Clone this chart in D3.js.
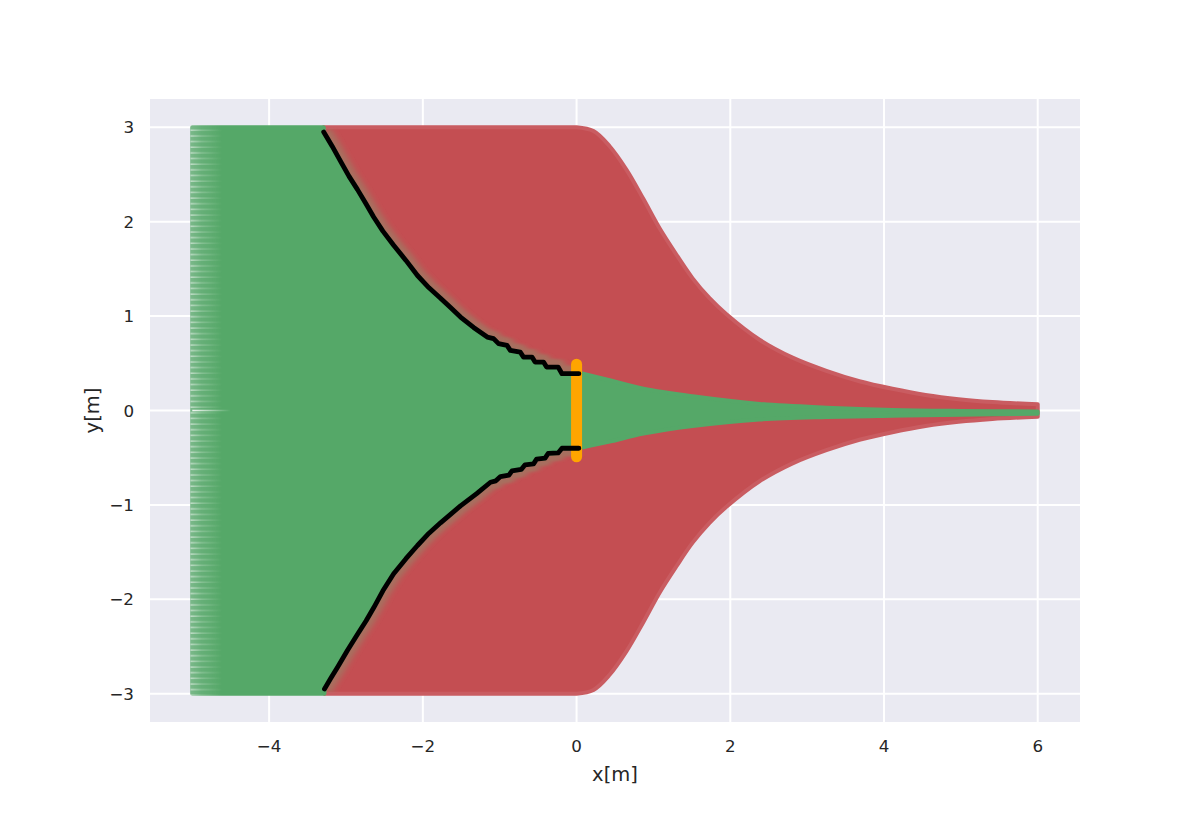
<!DOCTYPE html>
<html><head><meta charset="utf-8">
<script src="https://cdn.jsdelivr.net/npm/d3@7"></script>
<style>body{margin:0;background:#fff}</style>
</head><body>
<svg id="c" width="1200" height="825"></svg>
<script>
// ---- data ----
const xTicks = [-4, -2, 0, 2, 4, 6];
const yTicks = [-3, -2, -1, 0, 1, 2, 3];
const xLabel = "x[m]";
const yLabel = "y[m]";

// domain of trajectories
const startX = -5, endX = 6, yMin = -3, yMax = 3;

// black boundary (upper branch)
const upperBoundaryX = [-3.29,-3.18,-3.07,-2.96,-2.85,-2.74,-2.64,-2.52,-2.38,-2.22,-2.07,-1.92,-1.77,-1.64,-1.51,-1.34,-1.162,-1.08,-1.015,-0.905,-0.862,-0.733,-0.69,-0.58,-0.54,-0.43,-0.39,-0.24,-0.19,0.03];
const upperBoundaryY = [2.95,2.80,2.64,2.48,2.34,2.19,2.05,1.90,1.75,1.59,1.43,1.30,1.19,1.09,0.99,0.88,0.778,0.761,0.708,0.690,0.637,0.619,0.566,0.566,0.513,0.513,0.46,0.46,0.39,0.39];
// black boundary (lower branch)
const lowerBoundaryX = [-3.28,-3.20,-3.11,-2.98,-2.85,-2.74,-2.64,-2.52,-2.38,-2.22,-2.07,-1.92,-1.77,-1.64,-1.51,-1.30,-1.12,-1.05,-0.99,-0.88,-0.84,-0.72,-0.67,-0.56,-0.52,-0.41,-0.37,-0.24,-0.19,0.03];
const lowerBoundaryY = [-2.95,-2.84,-2.72,-2.54,-2.37,-2.23,-2.09,-1.91,-1.73,-1.57,-1.43,-1.30,-1.19,-1.10,-1.01,-0.88,-0.76,-0.745,-0.70,-0.685,-0.64,-0.625,-0.575,-0.565,-0.515,-0.505,-0.455,-0.45,-0.40,-0.40];

// outer envelope of the red trajectories
const outerX = [0, 0.22, 0.43, 0.65, 0.87, 1.08, 1.30, 1.51, 1.73, 1.95, 2.38, 2.81, 3.25, 3.68, 4.11, 4.54, 4.97, 5.41, 6.0];
const outerUpperY = [3.0, 2.96, 2.80, 2.55, 2.24, 1.93, 1.65, 1.40, 1.19, 1.02, 0.75, 0.56, 0.42, 0.31, 0.23, 0.165, 0.12, 0.09, 0.065];
const outerLowerY = [-3.0, -2.96, -2.80, -2.55, -2.24, -1.93, -1.65, -1.40, -1.19, -1.02, -0.75, -0.56, -0.42, -0.31, -0.23, -0.165, -0.12, -0.09, -0.065];

// green cone through the gap
const coneX = [0.03, 0.43, 0.87, 1.51, 2.38, 3.25, 4.11, 5.0, 6.0];
const coneUpperY = [0.40, 0.32, 0.23, 0.15, 0.07, 0.03, 0.005, -0.005, -0.01];
const coneLowerY = [-0.40, -0.33, -0.245, -0.165, -0.095, -0.068, -0.055, -0.045, -0.035];

// start-line streak at y = 0 (lighter trajectory at the left edge)
const streakX = [-5, -4.5];
const streakY = [0, 0];

// gap (orange)
const gapX = [0, 0];
const gapY = [-0.49, 0.49];

// ---- layout ----
const L = 150, R = 1080, T = 99, B = 722;
const x = d3.scaleLinear().domain([-5.55, 6.55]).range([L, R]);
const y = d3.scaleLinear().domain([-3.3, 3.3]).range([B, T]);

const svg = d3.select("#c");
const defs = svg.append("defs");

const font = "'DejaVu Sans', sans-serif";
const txt = "#262626";
const GREEN = "#55a868", RED = "#c44e52", BG = "#eaeaf2";

svg.append("rect").attr("x", L).attr("y", T).attr("width", R - L).attr("height", B - T).attr("fill", BG);

// grid
const g = svg.append("g");
g.selectAll(".gx").data(xTicks).join("line")
  .attr("x1", d => x(d)).attr("x2", d => x(d)).attr("y1", T).attr("y2", B)
  .attr("stroke", "#fff").attr("stroke-width", 2);
g.selectAll(".gy").data(yTicks).join("line")
  .attr("x1", L).attr("x2", R).attr("y1", d => y(d)).attr("y2", d => y(d))
  .attr("stroke", "#fff").attr("stroke-width", 2);

// helpers
const zip = (xs, ys) => xs.map((v, i) => [v, ys[i]]);
const lin = d3.line().x(d => x(d[0])).y(d => y(d[1]));
const smooth = d3.line().x(d => x(d[0])).y(d => y(d[1])).curve(d3.curveCatmullRom.alpha(0.5));
const cont = s => s.replace(/^M/, "L");

const upB = zip(upperBoundaryX, upperBoundaryY);
const loB = zip(lowerBoundaryX, lowerBoundaryY);
const outU = zip(outerX, outerUpperY);
const outL = zip(outerX, outerLowerY);
const coneU = zip(coneX, coneUpperY);
const coneL = zip(coneX, coneLowerY);

// red region
const redPath =
  lin([[upperBoundaryX[0], yMax], [0, yMax]]) +
  cont(smooth(outU)) +
  cont(lin([[endX, outerUpperY[outerUpperY.length - 1]], [endX, outerLowerY[outerLowerY.length - 1]]])) +
  cont(smooth(outL.slice().reverse())) +
  cont(lin([[0, yMin], [lowerBoundaryX[0], yMin]])) +
  cont(lin(loB)) +
  cont(lin(upB.slice().reverse())) + "Z";

// green region
const greenPath =
  lin([[startX, yMax], [upperBoundaryX[0], yMax]]) +
  cont(lin(upB)) +
  cont(smooth(coneU)) +
  cont(lin([[endX, coneUpperY[coneUpperY.length - 1]], [endX, coneLowerY[coneLowerY.length - 1]]])) +
  cont(smooth(coneL.slice().reverse())) +
  cont(lin(loB.slice().reverse())) +
  cont(lin([[lowerBoundaryX[0], yMin], [startX, yMin]])) + "Z";

defs.append("clipPath").attr("id", "redClip").append("path").attr("d", redPath);
const f = defs.append("filter").attr("id", "soft").attr("filterUnits", "userSpaceOnUse")
  .attr("x", 0).attr("y", 0).attr("width", 1200).attr("height", 825);
f.append("feGaussianBlur").attr("stdDeviation", "3 1");

svg.append("path").attr("d", redPath).attr("fill", RED)
  .attr("stroke", "#c95c61").attr("stroke-width", 4).attr("stroke-linejoin", "round");

// fuzzy transition band on the red side of the boundary
const fuzz = svg.append("g").attr("clip-path", "url(#redClip)");
[upB, loB].forEach(pts => {
  fuzz.append("path").attr("d", lin(pts)).attr("fill", "none")
    .attr("stroke", "#8f8a6a").attr("stroke-opacity", 0.55).attr("stroke-width", 16)
    .attr("stroke-linejoin", "round").attr("filter", "url(#soft)");
});

svg.append("path").attr("d", greenPath).attr("fill", GREEN)
  .attr("stroke", GREEN).attr("stroke-width", 4).attr("stroke-linejoin", "round");

// left edge texture (sparse markers at start)
const grad = defs.append("linearGradient").attr("id", "fadeG").attr("x1", 0).attr("x2", 1).attr("y1", 0).attr("y2", 0);
grad.append("stop").attr("offset", 0).attr("stop-color", "#fff").attr("stop-opacity", 1);
grad.append("stop").attr("offset", 0.35).attr("stop-color", "#fff").attr("stop-opacity", 0.45);
grad.append("stop").attr("offset", 1).attr("stop-color", "#fff").attr("stop-opacity", 0);
const mask = defs.append("mask").attr("id", "fadeM");
const ex0 = x(startX) - 2, ex1 = x(startX) + 30;
mask.append("rect").attr("x", ex0).attr("y", y(yMax) - 3).attr("width", ex1 - ex0).attr("height", y(yMin) - y(yMax) + 6).attr("fill", "url(#fadeG)");
const pat = defs.append("pattern").attr("id", "stripes").attr("patternUnits", "userSpaceOnUse")
  .attr("width", 8).attr("height", 5.65).attr("y", y(yMax));
pat.append("rect").attr("width", 8).attr("height", 5.65).attr("fill", BG).attr("opacity", 0.25);
pat.append("rect").attr("y", 2.4).attr("width", 8).attr("height", 1.1).attr("fill", "#fff").attr("opacity", 0.75);
svg.append("rect").attr("x", ex0).attr("y", y(yMax) - 2).attr("width", ex1 - ex0).attr("height", y(yMin) - y(yMax) + 4)
  .attr("fill", "url(#stripes)").attr("mask", "url(#fadeM)");

// streak at y = 0
const sg = defs.append("linearGradient").attr("id", "streakG").attr("gradientUnits", "userSpaceOnUse")
  .attr("x1", x(streakX[0])).attr("x2", x(streakX[1])).attr("y1", 0).attr("y2", 0);
sg.append("stop").attr("offset", 0).attr("stop-color", "#fff").attr("stop-opacity", 0.9);
sg.append("stop").attr("offset", 1).attr("stop-color", "#fff").attr("stop-opacity", 0);
svg.append("path").attr("d", lin(zip(streakX, streakY))).attr("stroke", "url(#streakG)").attr("stroke-width", 1.6).attr("fill", "none");

// orange gap
svg.append("path").attr("d", lin(zip(gapX, gapY))).attr("stroke", "#ffa500").attr("stroke-width", 11)
  .attr("stroke-linecap", "round").attr("fill", "none");

// black boundaries
[upB, loB].forEach(pts => {
  svg.append("path").attr("d", lin(pts)).attr("stroke", "#000").attr("stroke-width", 4.8)
    .attr("fill", "none").attr("stroke-linejoin", "round").attr("stroke-linecap", "round");
});

// tick labels
const fmt = d => (d < 0 ? "\u2212" + Math.abs(d) : String(d));
svg.append("g").selectAll("text").data(xTicks).join("text")
  .attr("x", d => x(d)).attr("y", 752).attr("text-anchor", "middle")
  .attr("font-family", font).attr("font-size", 16.7).attr("fill", txt).text(fmt);
svg.append("g").selectAll("text").data(yTicks).join("text")
  .attr("x", 134).attr("y", d => y(d)).attr("dy", "0.36em").attr("text-anchor", "end")
  .attr("font-family", font).attr("font-size", 16.7).attr("fill", txt).text(fmt);

svg.append("text").attr("x", (L + R) / 2).attr("y", 781).attr("text-anchor", "middle")
  .attr("font-family", font).attr("font-size", 19.5).attr("fill", txt).text(xLabel);
svg.append("text").attr("transform", `translate(99,${(T + B) / 2}) rotate(-90)`).attr("text-anchor", "middle")
  .attr("font-family", font).attr("font-size", 19.5).attr("fill", txt).text(yLabel);
</script>
</body></html>
